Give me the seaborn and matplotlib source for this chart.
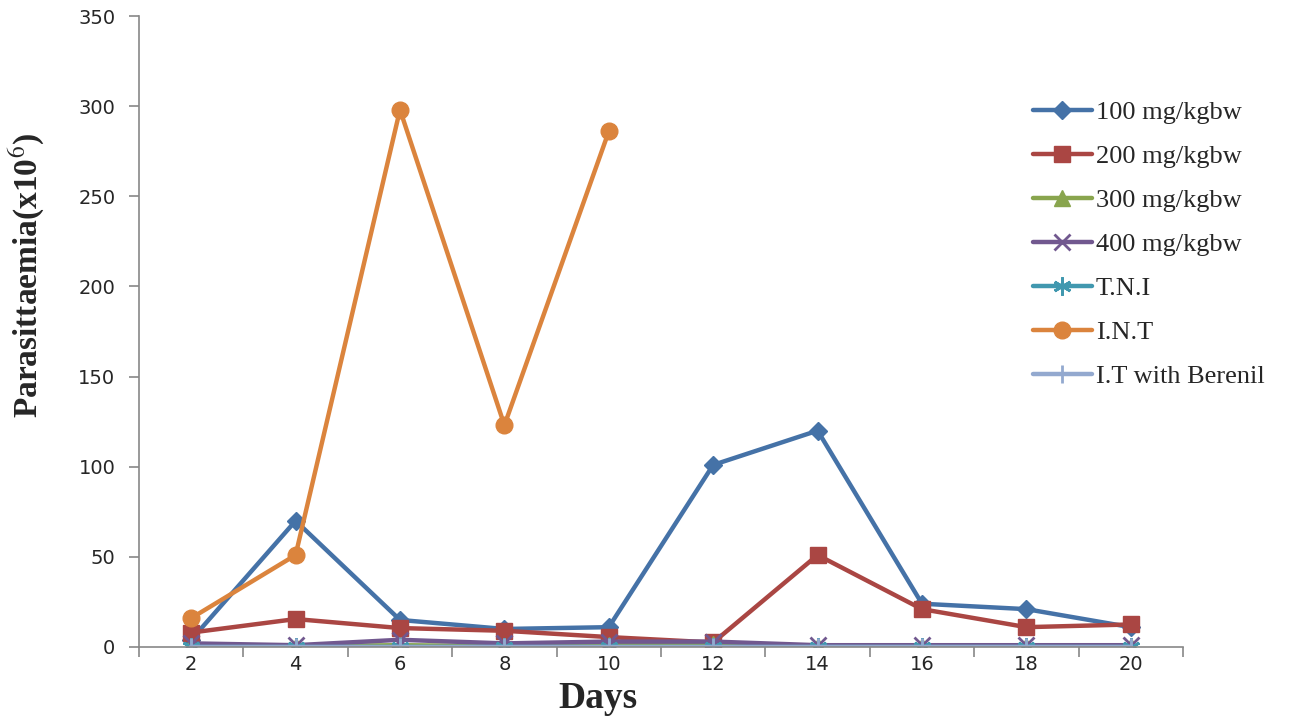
import matplotlib
matplotlib.use("Agg")
import matplotlib.pyplot as plt
import seaborn as sns
import pandas as pd
import numpy as np

days = [2, 4, 6, 8, 10, 12, 14, 16, 18, 20]
mg100 = [4, 70, 15, 10, 11, 101, 120, 24, 21, 11]
mg200 = [8, 15.5, 10.5, 9, 5.5, 2.5, 51, 21, 11, 12.5]
mg300 = [0.5, 0.5, 1, 0.5, 1, 1.5, 0.5, 0.5, 0.5, 0.5]
mg400 = [2, 1, 4, 2, 3, 3, 1, 1, 1, 1]
tni = [0, 0, 0, 0, 0, 0, 0, 0, 0, 0]
int_ = [16, 51, 298, 123, 286, None, None, None, None, None]
berenil = [0, 0, 0, 0, 0, 0, 0, 0, 0, 0]

series_names = ["100 mg/kgbw", "200 mg/kgbw", "300 mg/kgbw", "400 mg/kgbw",
                "T.N.I", "I.N.T", "I.T with Berenil"]
series_vals = [mg100, mg200, mg300, mg400, tni, int_, berenil]
colors = ["#4572A7", "#AA4643", "#89A54E", "#71588F", "#4198AF", "#DB843D", "#93A9CF"]
markers = ["D", "s", "^", "x", (6, 2, 0), "o", "|"]
msizes = [9, 11, 11, 11, 13, 12, 13]

sns.set_style("white")
plt.rcParams["font.family"] = ["DejaVu Sans"]
plt.rcParams["mathtext.fontset"] = "stix"

fig = plt.figure(figsize=(12.89, 7.19), dpi=100)
ax = fig.add_axes([139/1289, 1-647/719, (1183-139)/1289, (647-16)/719])

for name, vals, c, m, ms in zip(series_names, series_vals, colors, markers, msizes):
    df = pd.DataFrame({"day": days, "val": pd.array(vals, dtype="Float64").astype(float)})
    df = df.dropna()
    sns.lineplot(data=df, x="day", y="val", ax=ax, color=c, linewidth=3.2,
                 marker=m, markersize=ms, markeredgecolor=c, markerfacecolor=c,
                 markeredgewidth=2 if m in ("x", "|") or isinstance(m, tuple) else 1,
                 label=name, legend=False)

ax.set_xlim(1, 21)
ax.set_ylim(0, 350)
ax.set_yticks(np.arange(0, 351, 50))
ax.set_xticks(np.arange(1, 22, 2))
ax.set_xticklabels([])
ax.set_xticks(days, minor=True)
ax.set_xticklabels([str(d) for d in days], minor=True)
ax.tick_params(axis="x", which="minor", bottom=True, length=0, pad=6, labelsize=14)
ax.tick_params(axis="x", which="major", bottom=True, length=7, color="#888888", direction="out", width=1.2)
ax.tick_params(axis="y", left=True, length=7, color="#888888", direction="out", width=1.2, labelsize=14, pad=10)
for s in ["top", "right"]:
    ax.spines[s].set_visible(False)
for s in ["left", "bottom"]:
    ax.spines[s].set_color("#888888")
    ax.spines[s].set_linewidth(1.2)
ax.set_xlabel("")
ax.set_ylabel("")

fig.text(27/1289, 1-276/719, r"Parasittaemia(x10$^{6}$)", rotation=90, ha="center", va="center",
         fontsize=24, fontweight="bold", family="Liberation Serif")
fig.text(598/1289, 1-699/719, "Days", ha="center", va="center",
         fontsize=27, fontweight="bold", family="Liberation Serif")

handles, labels = ax.get_legend_handles_labels()
leg = fig.legend(handles, labels, loc="upper left", bbox_to_anchor=(1022/1289, 1-90/719),
                 frameon=False, prop={"family": "Liberation Serif", "size": 19},
                 handlelength=2.25, handletextpad=0.15, labelspacing=0.78, borderaxespad=0)

fig.savefig("out.png", dpi=100)
